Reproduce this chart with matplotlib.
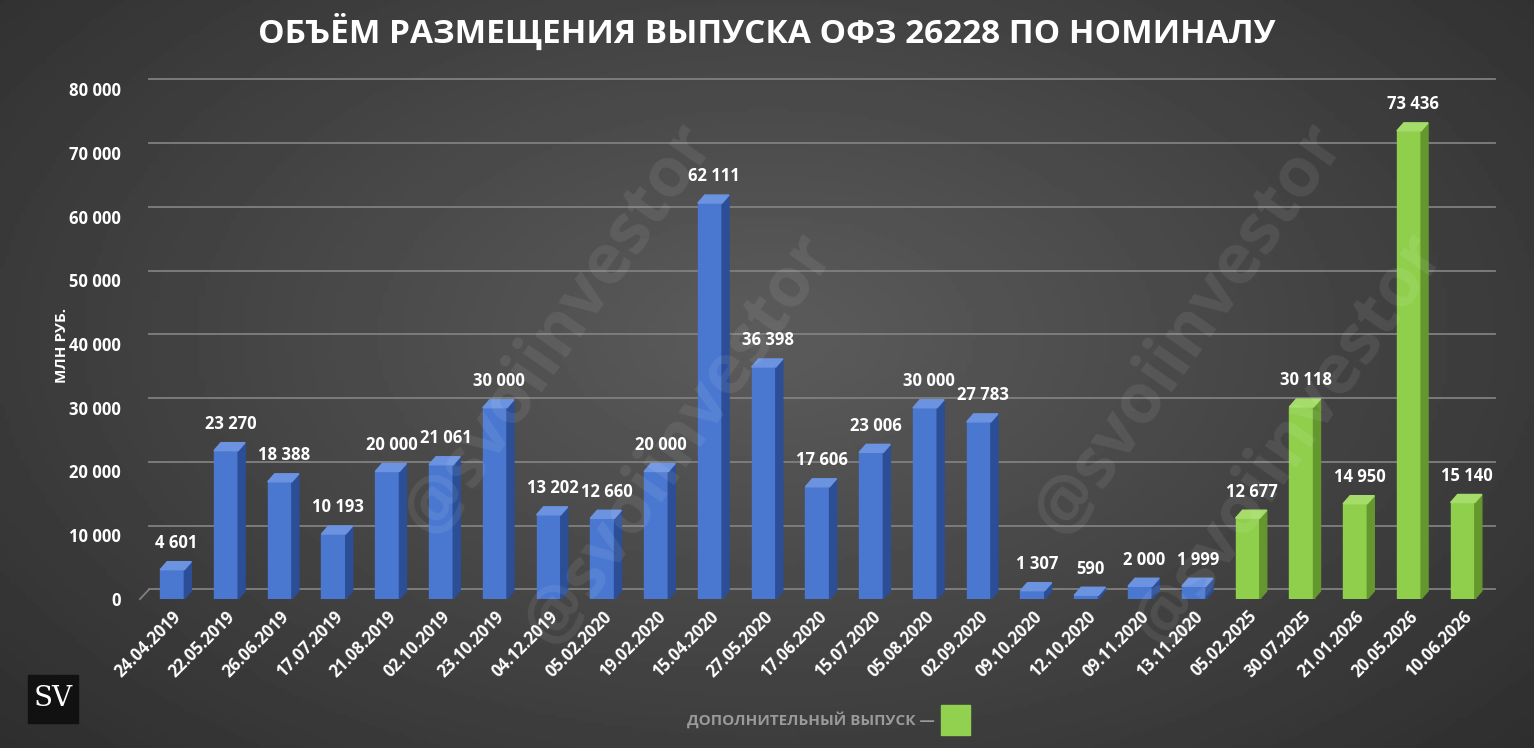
import matplotlib
matplotlib.use("Agg")
import matplotlib.pyplot as plt
import numpy as np
from matplotlib.patches import Polygon, Rectangle

plt.rcParams['font.family'] = ['Open Sans', 'DejaVu Sans']

dates = ["24.04.2019","22.05.2019","26.06.2019","17.07.2019","21.08.2019","02.10.2019","23.10.2019",
         "04.12.2019","05.02.2020","19.02.2020","15.04.2020","27.05.2020","17.06.2020","15.07.2020",
         "05.08.2020","02.09.2020","09.10.2020","12.10.2020","09.11.2020","13.11.2020","05.02.2025",
         "30.07.2025","21.01.2026","20.05.2026","10.06.2026"]
values = [4601,23270,18388,10193,20000,21061,30000,13202,12660,20000,62111,36398,17606,23006,
          30000,27783,1307,590,2000,1999,12677,30118,14950,73436,15140]
additional = [False]*20 + [True]*5
yticks = [0,10000,20000,30000,40000,50000,60000,70000,80000]

W, H = 1534, 748
fig = plt.figure(figsize=(W/100, H/100), dpi=100)
bg = fig.add_axes([0,0,1,1]); bg.set_axis_off()
yy, xx = np.mgrid[0:1:200j, 0:1:300j]
r = np.sqrt(((xx-0.5)*1.2)**2 + ((yy-0.45)*1.0)**2)
bg.imshow(0.36 - 0.22*r, cmap='gray', vmin=0, vmax=1, extent=[0,1,0,1], aspect='auto')
bg.set_xlim(0,1); bg.set_ylim(0,1)

ax = fig.add_axes([140/W, 1-599/H, 1355/W, 510/H])
ax.patch.set_alpha(0)
n = len(values)
ax.set_xlim(-0.6, n-0.4)
ax.set_ylim(0, 80000)
px_x = (n-0.4+0.6)/1355.0
px_y = 80000/510.0
dx, dy = 7*px_x, 8*px_y
for v in yticks:
    ax.plot([-0.6+dx*1.3, n-0.4], [v+dy*1.2]*2, color='#808080', lw=1.3, zorder=0, clip_on=False)
ax.plot([-0.6, -0.6+dx*1.3], [0, dy*1.2], color='#808080', lw=1.3, clip_on=False)
bw = 0.45
for i, (v, add) in enumerate(zip(values, additional)):
    front, side, top = ('#8fcf4c', '#64982e', '#a6dd6a') if add else ('#4a78d0', '#2b4e96', '#6b93e0')
    x0 = i - bw/2
    ax.add_patch(Rectangle((x0, 0), bw, v, color=front, zorder=2))
    ax.add_patch(Polygon([(x0+bw,0),(x0+bw+dx,dy),(x0+bw+dx,v+dy),(x0+bw,v)], color=side, zorder=2))
    ax.add_patch(Polygon([(x0,v),(x0+bw,v),(x0+bw+dx,v+dy),(x0+dx,v+dy)], color=top, zorder=2))
    ax.text(i+0.08, v+dy+1500, f"{v:,}".replace(",", " "), ha='center', va='bottom',
            color='white', fontsize=12, fontweight='bold', zorder=3)
ax.set_xticks(range(n))
ax.set_xticklabels(dates, rotation=45, ha='right', rotation_mode='anchor', color='white',
                   fontsize=12, fontweight='bold')
ax.set_yticks(yticks)
ax.set_yticklabels([f"{v:,}".replace(",", " ") for v in yticks], color='white', fontsize=12, fontweight='bold')
ax.tick_params(length=0, pad=14)
ax.tick_params(axis='x', pad=6)
for s in ax.spines.values(): s.set_visible(False)

fig.text(0.5, 1-32/H, "ОБЪЁМ РАЗМЕЩЕНИЯ ВЫПУСКА ОФЗ 26228 ПО НОМИНАЛУ",
         ha='center', va='center', color='white', fontsize=24, fontweight='bold')
fig.text(62/W, 1-345/H, "МЛН РУБ.", rotation=90, ha='center', va='center', color='white',
         fontsize=11, fontweight='bold')
fig.text(935/W, 1-720/H, "ДОПОЛНИТЕЛЬНЫЙ ВЫПУСК —", ha='right', va='center', color='#9a9a9a',
         fontsize=11, fontweight='bold')
bg.add_patch(Rectangle((941/W, 1-735/H), 29/W, 30/H, color='#92d050'))
bg.add_patch(Rectangle((28/W, 1-723/H), 50/W, 48/H, color='#111111'))
fig.text(53/W, 1-699/H, "SV", ha='center', va='center', color='white', fontsize=20, family='DejaVu Serif')
for (x, y) in [(560, 330), (1190, 330), (680, 440), (1290, 440)]:
    fig.text(x/W, 1-y/H, "@svoiinvestor", rotation=55, ha='center', va='center',
             color='white', alpha=0.08, fontsize=50, fontweight='bold')
fig.savefig("out.png", dpi=100)
